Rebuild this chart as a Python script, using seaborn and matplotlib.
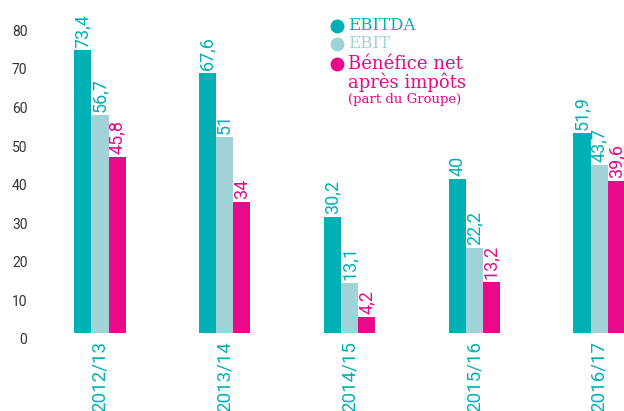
import matplotlib
matplotlib.use("Agg")
import matplotlib.pyplot as plt
import seaborn as sns
import pandas as pd

years = ["2012/13", "2013/14", "2014/15", "2015/16", "2016/17"]
ebitda = [73.4, 67.6, 30.2, 40, 51.9]
ebit = [56.7, 51, 13.1, 22.2, 43.7]
net = [45.8, 34, 4.2, 13.2, 39.6]
series_names = ["EBITDA", "EBIT", "Bénéfice net"]
y_ticks = [0, 10, 20, 30, 40, 50, 60, 70, 80]

TEAL = "#00b0b5"
LIGHT = "#a0d2d7"
MAGENTA = "#e8088a"
colors = [TEAL, LIGHT, MAGENTA]
label_colors = [TEAL, TEAL, MAGENTA]

sns.set_theme(style="white")
plt.rcParams['font.family'] = ['Roboto', 'DejaVu Sans']

df = pd.DataFrame({
    "year": years * 3,
    "value": ebitda + ebit + net,
    "series": sum([[s] * len(years) for s in series_names], []),
})

fig = plt.figure(figsize=(6.24, 4.11), dpi=100)
ax = fig.add_axes([40 / 624, 78 / 411, 584 / 624, 333 / 411])

sns.barplot(data=df, x="year", y="value", hue="series", hue_order=series_names,
            palette=colors, width=0.41, gap=0, saturation=1, legend=False,
            errorbar=None, linewidth=0, edgecolor="none", ax=ax)

def fmt(v):
    if float(v).is_integer():
        return str(int(v))
    return f"{v}".replace(".", ",")

for cont, vals, col in zip(ax.containers, [ebitda, ebit, net], label_colors):
    ax.bar_label(cont, labels=[fmt(v) for v in vals], rotation=90, padding=2,
                 color=col, fontsize=13)

ax.set_ylim(0, 333 / 3.85)
ax.set_xlim(-0.481, 4.2)
ax.set_yticks(y_ticks)
ax.set_yticklabels([str(t) for t in y_ticks])
ax.tick_params(axis="y", length=0, pad=9, labelsize=10, labelcolor="#333333")
ax.tick_params(axis="x", length=0, pad=6, labelsize=13.5, labelcolor=TEAL)
for t in ax.get_yticklabels():
    t.set_va("top")
for t in ax.get_xticklabels():
    t.set_rotation(90)
    t.set_va("top")
    t.set_ha("center")
ax.set_xlabel("")
ax.set_ylabel("")
for s in ax.spines.values():
    s.set_visible(False)
ax.grid(False)

# legend (manual)
def px(x, y):
    return x / 624, 1 - y / 411

legend_items = [
    (26, TEAL, "EBITDA", 12),
    (44, LIGHT, "EBIT", 12),
    (64, MAGENTA, "Bénéfice net", 13),
]
for y, col, txt, fs in legend_items:
    cx, cy = px(337, y)
    fig.add_artist(plt.Line2D([cx], [cy], marker="o", markersize=9,
                              color=col, linestyle="none",
                              transform=fig.transFigure))
    tx, ty = px(348, y)
    fig.text(tx, ty, txt, color=col, fontsize=fs, family="DejaVu Serif",
             va="center", ha="left")
tx, ty = px(348, 82)
fig.text(tx, ty, "après impôts", color=MAGENTA, fontsize=13,
         family="DejaVu Serif", va="center", ha="left")
tx, ty = px(348, 99)
fig.text(tx, ty, "(part du Groupe)", color=MAGENTA, fontsize=9.5,
         family="DejaVu Serif", va="center", ha="left")

fig.savefig("out.png", dpi=100, facecolor="white")
